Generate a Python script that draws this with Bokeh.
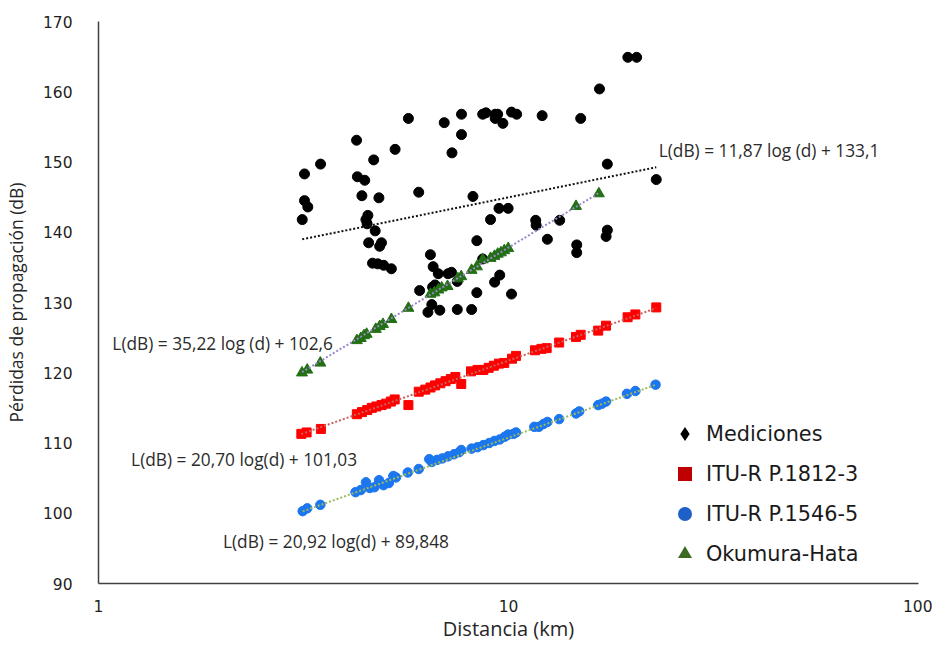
from bokeh.plotting import figure
from bokeh.models import (Range1d, FixedTicker, PrintfTickFormatter, Label, Legend, LegendItem,
                          ColumnDataSource)
from bokeh.embed import file_html
from bokeh.resources import INLINE
import numpy as np

# ---- data (distance km, loss dB) ----
med_d = [16.67, 5.70, 6.97, 7.68, 8.65, 8.81, 9.28, 9.41, 9.28, 9.69, 10.17, 10.47, 12.08, 15.0,
         7.68, 4.26, 5.29, 7.28, 4.69, 3.48, 3.18, 4.28, 4.46, 17.42, 22.93, 6.04, 4.39, 4.83,
         8.19, 3.18, 3.24, 3.14, 9.48, 9.98, 4.54, 4.49, 4.52, 4.73, 9.04, 11.65, 11.68, 13.33,
         17.42, 17.30, 12.44, 4.56, 4.90, 4.85, 8.37, 14.67, 14.67, 6.45, 4.66, 4.80, 4.96, 5.18,
         8.65, 6.55, 6.74, 7.12, 7.26, 9.52, 9.25, 6.07, 6.62, 6.53, 7.50, 8.37, 10.17, 6.50,
         6.36, 6.80, 7.50, 8.13, 19.55, 20.54]
med_L = [160.4, 156.2, 155.6, 156.8, 156.8, 157.0, 156.8, 156.8, 156.2, 155.5, 157.1, 156.8, 156.6, 156.2,
         153.9, 153.1, 151.8, 151.3, 150.3, 149.7, 148.3, 147.9, 147.4, 149.7, 147.5, 145.7, 145.2, 144.9,
         145.1, 144.5, 143.6, 141.8, 143.4, 143.4, 142.4, 141.8, 141.2, 140.2, 141.8, 141.7, 141.0, 141.7,
         140.3, 139.4, 139.0, 138.5, 138.5, 138.0, 138.8, 138.2, 137.1, 136.8, 135.6, 135.5, 135.3, 134.8,
         136.2, 135.1, 134.1, 134.1, 134.3, 133.9, 132.9, 131.7, 132.5, 132.2, 133.0, 131.4, 131.2, 129.7,
         128.6, 128.9, 129.0, 129.0, 164.9, 164.9]

p1812_d = [3.124, 3.218, 3.487, 4.267, 4.392, 4.524, 4.641, 4.762, 4.903, 5.031, 5.164, 5.278, 5.700,
           6.041, 6.268, 6.452, 6.622, 6.819, 7.023, 7.232, 7.420, 7.669, 8.101, 8.400, 8.683, 8.944,
           9.210, 9.481, 9.766, 10.20, 10.43, 11.60, 12.03, 12.39, 13.29, 14.61, 15.00, 16.55, 17.29,
           19.52, 20.39, 22.93]
p1812_L = [111.3, 111.5, 112.0, 114.1, 114.4, 114.7, 115.0, 115.2, 115.4, 115.6, 115.9, 116.2, 115.4,
           117.3, 117.6, 117.9, 118.2, 118.5, 118.8, 119.1, 119.4, 118.4, 120.2, 120.4, 120.4, 120.7,
           121.0, 121.3, 121.4, 122.0, 122.4, 123.2, 123.4, 123.5, 124.3, 125.1, 125.4, 126.0, 126.7,
           127.9, 128.3, 129.3]

p1546_d = [3.148, 3.229, 3.476, 4.236, 4.362, 4.491, 4.590, 4.710, 4.833, 4.958, 5.107, 5.238, 5.316,
           5.679, 6.041, 6.408, 6.503, 6.696, 6.894, 7.122, 7.362, 7.585, 7.669, 8.128, 8.401, 8.683,
           8.974, 9.245, 9.517, 9.800, 9.984, 10.28, 10.43, 11.56, 11.86, 12.17, 12.44, 13.29, 14.61,
           14.88, 16.55, 16.92, 17.29, 19.45, 20.39, 22.84]
p1546_L = [100.3, 100.7, 101.2, 103.0, 103.3, 104.4, 103.6, 103.7, 104.7, 104.0, 104.3, 105.3, 105.1,
           105.8, 106.3, 107.7, 107.3, 107.6, 107.8, 108.1, 108.4, 108.7, 109.0, 109.2, 109.4, 109.7,
           110.0, 110.3, 110.5, 110.9, 111.2, 111.3, 111.5, 112.3, 112.3, 112.7, 113.0, 113.4, 114.2,
           114.5, 115.4, 115.6, 115.9, 117.0, 117.4, 118.3]

hata_d = [3.136, 3.229, 3.476, 4.267, 4.362, 4.442, 4.508, 4.745, 4.851, 4.942, 5.181, 5.700, 6.452,
          6.595, 6.742, 6.871, 7.101, 7.527, 7.669, 8.128, 8.373, 8.654, 9.042, 9.244, 9.413, 9.585,
          9.766, 9.984, 14.61, 16.61]
hata_L = [120.0, 120.4, 121.4, 124.6, 124.9, 125.3, 125.5, 126.2, 126.6, 126.9, 127.6, 129.2, 131.2,
          131.4, 131.8, 132.1, 132.3, 133.4, 133.7, 134.6, 135.1, 136.1, 136.3, 136.6, 136.9, 137.1,
          137.4, 137.7, 143.7, 145.5]

# trend-line coefficients (slope, intercept) as printed on the chart
coef_med = [11.87, 133.1]
coef_1812 = [20.70, 101.03]
coef_1546 = [20.92, 89.848]
coef_hata = [35.22, 102.6]

eq_texts = ["L(dB) = 11,87 log (d) + 133,1", "L(dB) = 35,22 log (d) + 102,6",
            "L(dB) = 20,70 log(d) + 101,03", "L(dB) = 20,92 log(d) + 89,848"]
eq_x = [23.25, 1.081, 1.201, 2.012]
eq_y = [151.7, 124.2, 107.6, 96.0]

legend_labels = ["Mediciones", "ITU-R P.1812-3", "ITU-R P.1546-5", "Okumura-Hata"]
x_title = "Distancia (km)"
y_title = "Pérdidas de propagación (dB)"
x_ticks = [1, 10, 100]
y_ticks = [90, 100, 110, 120, 130, 140, 150, 160, 170]

# ---- figure ----
p = figure(width=932, height=644, x_axis_type="log",
           x_range=Range1d(1, 100), y_range=Range1d(90, 170),
           output_backend="svg", toolbar_location=None,
           min_border_left=87, min_border_right=14, min_border_top=21, min_border_bottom=61)
p.outline_line_color = None
p.grid.visible = False
p.background_fill_color = "white"

for ax in (p.xaxis[0], p.yaxis[0]):
    ax.axis_line_color = "#404040"
    ax.axis_line_width = 1.5
    ax.major_tick_line_color = None
    ax.minor_tick_line_color = None
    ax.major_label_text_font = "DejaVu Sans"
    ax.major_label_text_font_size = "15.5px"
    ax.major_label_text_color = "#1f1f1f"
    ax.axis_label_text_font = "Open Sans"
    ax.axis_label_text_font_style = "normal"
    ax.axis_label_text_color = "#262626"
    ax.formatter = PrintfTickFormatter(format="%d")

p.xaxis.ticker = FixedTicker(ticks=x_ticks)
p.yaxis.ticker = FixedTicker(ticks=y_ticks)
p.xaxis.axis_label = x_title
p.yaxis.axis_label = y_title
p.xaxis.axis_label_text_font_size = "20px"
p.yaxis.axis_label_text_font_size = "17.5px"
p.xaxis.major_label_standoff = 10
p.xaxis.axis_label_standoff = 0
p.yaxis.major_label_standoff = 20
p.yaxis.axis_label_standoff = 12

BLACK = "#000000"
RED = "#ff0000"
BLUE = "#1c77ee"
GREEN = "#236f15"

src_med = ColumnDataSource(dict(x=med_d, y=med_L))
src_1812 = ColumnDataSource(dict(x=p1812_d, y=p1812_L))
src_1546 = ColumnDataSource(dict(x=p1546_d, y=p1546_L))
src_hata = ColumnDataSource(dict(x=hata_d, y=hata_L))

p.scatter("x", "y", source=src_med, marker="circle", size=10, color=BLACK)
p.scatter("x", "y", source=src_1812, marker="square", size=9, color=RED)
p.scatter("x", "y", source=src_1546, marker="circle", size=9.5, color=BLUE)
p.scatter("x", "y", source=src_hata, marker="triangle", size=11, color=GREEN)

def trend(ds, coef, color):
    xs = np.array([min(ds), max(ds)])
    ys = coef[0] * np.log10(xs) + coef[1]
    p.line(xs, ys, line_color=color, line_width=2, line_dash="2 2")

trend(med_d, coef_med, "#111111")
trend(p1812_d, coef_1812, "#c8625c")
trend(p1546_d, coef_1546, "#9bbb59")
trend(hata_d, coef_hata, "#9b86cc")

for t, x, y in zip(eq_texts, eq_x, eq_y):
    p.add_layout(Label(x=x, y=y, text=t, text_align="left", text_baseline="middle",
                       text_font="Open Sans", text_font_size="17.3px", text_color="#2b2b2b"))

# legend-only renderers: zero-size markers on the same data (invisible in the plot);
# the legend draws its own glyph size from the glyph box.
def legend_glyph(src, marker, color):
    return p.scatter("x", "y", source=src, marker=marker, size=0,
                     fill_color=color, line_color=None)

r_l1 = legend_glyph(src_med, "diamond", BLACK)
r_l2 = legend_glyph(src_1812, "square", "#c00000")
r_l3 = legend_glyph(src_1546, "circle", "#1f5fc8")
r_l4 = legend_glyph(src_hata, "triangle", "#3b6b1e")
legend = Legend(items=[LegendItem(label=legend_labels[0], renderers=[r_l1]),
                       LegendItem(label=legend_labels[1], renderers=[r_l2]),
                       LegendItem(label=legend_labels[2], renderers=[r_l3]),
                       LegendItem(label=legend_labels[3], renderers=[r_l4])],
                location=(569, 12), orientation="vertical",
                glyph_width=35, glyph_height=35, spacing=5, label_standoff=4,
                padding=0, margin=0, border_line_color=None, background_fill_alpha=1.0,
                label_text_font="DejaVu Sans", label_text_font_size="20.8px",
                label_text_color="#1a1a1a")
p.add_layout(legend, "center")

open("out.html", "w").write(file_html(p, INLINE))
